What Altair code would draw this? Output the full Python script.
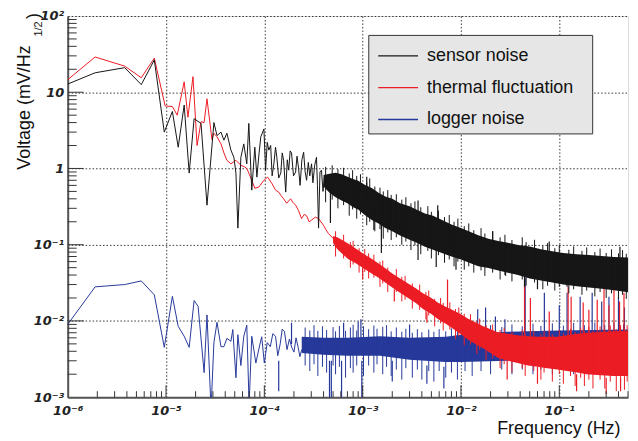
import altair as alt
import pandas as pd

# ---------------- data ----------------
SERIES = ["sensor noise", "thermal fluctuation", "logger noise"]
COLORS = ["#161616", "#ec1c24", "#26399a"]

# sparse (low-frequency) part of each spectrum: (frequency Hz, voltage mV/Hz^1/2)
SENSOR_LINE = [
    (1.0e-6, 12.8), (1.9e-6, 18), (3.8e-6, 21), (5.6e-6, 12.6), (7.6e-6, 26.5),
    (9.6e-6, 3.0), (1.16e-5, 5.6), (1.33e-5, 1.9), (1.53e-5, 6.8), (1.72e-5, 0.87),
    (1.93e-5, 4.5), (2.27e-5, 3.9), (2.61e-5, 0.33), (3.07e-5, 4.0), (3.30e-5, 2.7),
    (3.62e-5, 3.0), (3.88e-5, 2.35), (4.16e-5, 2.9), (4.57e-5, 1.74), (4.90e-5, 1.4),
    (5.14e-5, 0.87), (5.38e-5, 0.165), (5.77e-5, 1.4), (6.18e-5, 2.1), (6.63e-5, 1.15),
    (6.95e-5, 3.9), (7.45e-5, 0.52), (8.0e-5, 1.9), (8.4e-5, 0.77), (8.8e-5, 1.5),
    (9.2e-5, 2.6), (9.9e-5, 3.3), (1.03e-4, 0.95), (1.07e-4, 2.2), (1.11e-4, 1.74),
    (1.16e-4, 2.0), (1.2e-4, 0.8), (1.25e-4, 1.15), (1.3e-4, 1.9), (1.34e-4, 1.4),
    (1.4e-4, 0.75), (1.47e-4, 0.87), (1.52e-4, 1.6), (1.57e-4, 1.28), (1.65e-4, 0.49),
    (1.71e-4, 1.3), (1.77e-4, 0.95), (1.83e-4, 1.7), (1.89e-4, 1.6), (1.98e-4, 0.8),
    (2.08e-4, 0.9), (2.15e-4, 1.45), (2.23e-4, 1.0), (2.31e-4, 0.6), (2.41e-4, 1.3),
    (2.51e-4, 1.63), (2.6e-4, 0.9), (2.69e-4, 0.7), (2.8e-4, 1.2), (2.9e-4, 0.8),
    (3.02e-4, 1.15), (3.12e-4, 0.65), (3.25e-4, 1.1), (3.39e-4, 1.4), (3.47e-4, 0.6),
    (3.56e-4, 0.165), (3.68e-4, 0.9), (3.81e-4, 0.95), (3.95e-4, 0.5), (4.1e-4, 0.8),
]
THERMAL_LINE = [
    (1.0e-6, 14.6), (1.9e-6, 29), (3.8e-6, 22), (5.6e-6, 15.5), (7.6e-6, 28),
    (9.8e-6, 6.6), (1.16e-5, 6.5), (1.30e-5, 5.0), (1.53e-5, 13.7), (1.67e-5, 4.7),
    (1.88e-5, 16), (2.07e-5, 2.0), (2.27e-5, 4.1), (2.44e-5, 4.0), (2.61e-5, 8.2),
    (2.93e-5, 2.4), (3.07e-5, 2.9), (3.30e-5, 2.6), (3.62e-5, 2.1), (3.88e-5, 1.6),
    (4.16e-5, 1.28), (4.57e-5, 1.15), (5.14e-5, 1.28), (5.77e-5, 1.1), (6.3e-5, 1.05),
    (6.63e-5, 1.0), (6.95e-5, 0.87), (7.45e-5, 0.7), (8.0e-5, 0.55), (8.8e-5, 0.57),
    (9.9e-5, 0.7), (1.08e-4, 0.77), (1.19e-4, 0.64), (1.30e-4, 0.52), (1.40e-4, 0.49),
    (1.48e-4, 0.44), (1.57e-4, 0.40), (1.69e-4, 0.35), (1.85e-4, 0.40), (1.95e-4, 0.36),
    (2.08e-4, 0.33), (2.23e-4, 0.28), (2.39e-4, 0.22), (2.55e-4, 0.25), (2.69e-4, 0.24),
    (2.85e-4, 0.20), (3.02e-4, 0.21), (3.3e-4, 0.23), (3.56e-4, 0.22), (3.99e-4, 0.18),
    (4.2e-4, 0.16), (4.49e-4, 0.14), (4.75e-4, 0.13), (5.04e-4, 0.12),
]
LOGGER_LINE = [
    (1.0e-6, 0.009), (1.9e-6, 0.028), (3.8e-6, 0.030), (5.6e-6, 0.0335), (7.6e-6, 0.022),
    (9.6e-6, 0.0045), (1.16e-5, 0.021), (1.33e-5, 0.0085), (1.53e-5, 0.0063), (1.72e-5, 0.0045),
    (1.93e-5, 0.0185), (2.12e-5, 0.0155), (2.44e-5, 0.0021), (2.61e-5, 0.012), (2.87e-5, 0.0007),
    (3.07e-5, 0.0052), (3.30e-5, 0.0096), (3.62e-5, 0.0046), (3.88e-5, 0.0046), (4.16e-5, 0.0059),
    (4.57e-5, 0.0054), (4.78e-5, 0.0077), (5.14e-5, 0.0018), (5.38e-5, 0.0066), (5.77e-5, 0.0026),
    (6.18e-5, 0.0063), (6.63e-5, 0.0088), (7.0e-5, 0.0008), (7.45e-5, 0.0063), (8.2e-5, 0.0028),
    (8.8e-5, 0.0043), (9.4e-5, 0.0062), (1.0e-4, 0.0028), (1.07e-4, 0.0052), (1.15e-4, 0.0046),
    (1.22e-4, 0.0068), (1.3e-4, 0.0063), (1.37e-4, 0.0035), (1.45e-4, 0.0050), (1.52e-4, 0.0078),
    (1.6e-4, 0.0073), (1.7e-4, 0.0042), (1.8e-4, 0.0058), (1.9e-4, 0.0045), (2.0e-4, 0.0039),
    (2.1e-4, 0.0060), (2.2e-4, 0.0046), (2.3e-4, 0.0034), (2.4e-4, 0.0042),
]

# dense (high-frequency) part: solid core of the noise band (frequency, low, high)
SENSOR_CORE = [
    (4.0e-4, 0.58, 0.82), (4.6e-4, 0.48, 0.85), (5.3e-4, 0.42, 0.88), (6.1e-4, 0.38, 0.84),
    (7.0e-4, 0.35, 0.78), (8.0e-4, 0.31, 0.73), (9.0e-4, 0.29, 0.69), (1.05e-3, 0.245, 0.61),
    (1.25e-3, 0.21, 0.55), (1.45e-3, 0.19, 0.48), (1.7e-3, 0.165, 0.43), (2.0e-3, 0.15, 0.40),
    (2.4e-3, 0.132, 0.35), (3.0e-3, 0.116, 0.32), (3.6e-3, 0.105, 0.285), (4.3e-3, 0.094, 0.257),
    (5.2e-3, 0.086, 0.24), (6.5e-3, 0.077, 0.21), (8.0e-3, 0.070, 0.184), (1.0e-2, 0.064, 0.166),
    (1.25e-2, 0.057, 0.147), (1.5e-2, 0.052, 0.133), (1.9e-2, 0.0495, 0.12), (2.4e-2, 0.046, 0.112),
    (3.0e-2, 0.043, 0.106), (3.8e-2, 0.040, 0.099), (5.0e-2, 0.036, 0.095), (6.5e-2, 0.034, 0.087),
    (8.5e-2, 0.032, 0.082), (0.11, 0.030, 0.078), (0.15, 0.0286, 0.075), (0.2, 0.0275, 0.073),
    (0.27, 0.0264, 0.071), (0.36, 0.0253, 0.069), (0.5, 0.0237, 0.068),
]
THERMAL_CORE = [
    (5.0e-4, 0.105, 0.13), (5.5e-4, 0.088, 0.125), (6.0e-4, 0.079, 0.118), (7.1e-4, 0.065, 0.104),
    (8.5e-4, 0.057, 0.089), (1.0e-3, 0.050, 0.077), (1.2e-3, 0.043, 0.067), (1.44e-3, 0.037, 0.057),
    (1.7e-3, 0.032, 0.049), (2.0e-3, 0.0275, 0.042), (2.4e-3, 0.0235, 0.036), (2.9e-3, 0.020, 0.031),
    (3.5e-3, 0.017, 0.0267), (4.1e-3, 0.0143, 0.023), (5.0e-3, 0.0123, 0.020), (5.8e-3, 0.0106, 0.0175),
    (7.0e-3, 0.0092, 0.0154), (8.3e-3, 0.0079, 0.0138), (1.0e-2, 0.0067, 0.0122), (1.17e-2, 0.0057, 0.0108),
    (1.4e-2, 0.0050, 0.0096), (1.66e-2, 0.0044, 0.0086), (2.0e-2, 0.0038, 0.0078), (2.36e-2, 0.0033, 0.0071),
    (3.0e-2, 0.0030, 0.0068), (3.76e-2, 0.0028, 0.0065), (4.8e-2, 0.0026, 0.0063), (6.0e-2, 0.0025, 0.0062),
    (7.5e-2, 0.0024, 0.0062), (9.55e-2, 0.0023, 0.0062), (0.12, 0.0022, 0.0065), (0.152, 0.0021, 0.0068),
    (0.19, 0.0020, 0.0070), (0.243, 0.00195, 0.0071), (0.35, 0.0019, 0.0073), (0.5, 0.0019, 0.0074),
]
LOGGER_CORE = [
    (2.4e-4, 0.0038, 0.0062), (4e-4, 0.0036, 0.0060), (7e-4, 0.0035, 0.0060), (1.5e-3, 0.0035, 0.0063),
    (3e-3, 0.0031, 0.0060), (7e-3, 0.0029, 0.0062), (1e-2, 0.0029, 0.0066), (3e-2, 0.0030, 0.0072),
    (0.1, 0.0030, 0.0075), (0.5, 0.0030, 0.0077),
]

# hair-like extremes of the noise around each band: (frequency, low, high)
SENSOR_HAIR = [
    (4.2e-4, 0.36, 1.05), (4.9e-4, 0.39, 1.1), (5.6e-4, 0.30, 0.98), (6.4e-4, 0.33, 1.02),
    (7.3e-4, 0.24, 0.86), (7.9e-4, 0.29, 0.95), (8.7e-4, 0.22, 0.80), (9.5e-4, 0.25, 0.84),
    (1.1e-3, 0.18, 0.66), (1.18e-3, 0.20, 0.74), (1.33e-3, 0.15, 0.58), (1.5e-3, 0.16, 0.56),
    (1.62e-3, 0.12, 0.50), (1.8e-3, 0.145, 0.52), (1.95e-3, 0.115, 0.45), (2.2e-3, 0.125, 0.46),
    (2.5e-3, 0.10, 0.39), (2.75e-3, 0.11, 0.42), (3.1e-3, 0.085, 0.35), (3.4e-3, 0.098, 0.37),
    (3.9e-3, 0.075, 0.31), (4.6e-3, 0.083, 0.32), (5.0e-3, 0.066, 0.27), (5.9e-3, 0.073, 0.28),
    (6.8e-3, 0.058, 0.23), (7.6e-3, 0.064, 0.245), (8.5e-3, 0.052, 0.20), (9.3e-3, 0.060, 0.22),
    (1.08e-2, 0.047, 0.175), (1.2e-2, 0.052, 0.19), (1.35e-2, 0.043, 0.155), (1.6e-2, 0.046, 0.165),
    (1.75e-2, 0.039, 0.14), (2.1e-2, 0.043, 0.15), (2.5e-2, 0.035, 0.125), (2.8e-2, 0.040, 0.135),
    (3.3e-2, 0.033, 0.115), (4.2e-2, 0.035, 0.125), (4.6e-2, 0.029, 0.108), (5.6e-2, 0.032, 0.116),
    (6.8e-2, 0.026, 0.097), (7.6e-2, 0.029, 0.105), (9.0e-2, 0.025, 0.090), (0.1, 0.028, 0.10),
    (0.125, 0.023, 0.086), (0.14, 0.026, 0.095), (0.17, 0.022, 0.083), (0.19, 0.025, 0.092),
    (0.23, 0.021, 0.080), (0.26, 0.024, 0.089), (0.3, 0.020, 0.078), (0.34, 0.023, 0.087),
    (0.4, 0.0195, 0.077), (0.44, 0.022, 0.085), (0.48, 0.0195, 0.076),
]
THERMAL_HAIR = [
    (5.3e-4, 0.070, 0.15), (6.4e-4, 0.066, 0.135), (7.5e-4, 0.050, 0.108), (8.0e-4, 0.055, 0.112),
    (9.2e-4, 0.043, 0.090), (1.05e-3, 0.044, 0.088), (1.15e-3, 0.036, 0.077), (1.3e-3, 0.037, 0.074),
    (1.5e-3, 0.028, 0.060), (1.6e-3, 0.031, 0.062), (1.8e-3, 0.024, 0.050), (2.2e-3, 0.024, 0.048),
    (2.5e-3, 0.018, 0.038), (2.7e-3, 0.019, 0.039), (3.2e-3, 0.0145, 0.031), (3.8e-3, 0.014, 0.030),
    (4.4e-3, 0.0105, 0.024), (4.7e-3, 0.0118, 0.025), (5.4e-3, 0.0085, 0.0195), (6.2e-3, 0.0093, 0.020),
    (6.6e-3, 0.0075, 0.0172), (7.7e-3, 0.0077, 0.0175), (8.8e-3, 0.0058, 0.0143), (9.5e-3, 0.0063, 0.015),
    (1.08e-2, 0.0048, 0.0124), (1.25e-2, 0.0049, 0.0122), (1.45e-2, 0.0037, 0.010), (1.55e-2, 0.0042, 0.0107),
    (1.8e-2, 0.0031, 0.0088), (2.1e-2, 0.0032, 0.0090), (2.5e-2, 0.0024, 0.0076), (2.75e-2, 0.0027, 0.0082),
    (3.3e-2, 0.0021, 0.0072), (4.2e-2, 0.0024, 0.0076), (4.5e-2, 0.0019, 0.0068), (5.5e-2, 0.0022, 0.0074),
    (6.5e-2, 0.0017, 0.0067), (7.0e-2, 0.0021, 0.0074), (8.5e-2, 0.0016, 0.0067), (0.1, 0.0020, 0.0076),
    (0.11, 0.0015, 0.0069), (0.13, 0.0019, 0.0079), (0.145, 0.0014, 0.0072), (0.165, 0.0018, 0.0082),
    (0.18, 0.0014, 0.0074), (0.2, 0.0017, 0.0084), (0.22, 0.0013, 0.0075), (0.26, 0.0017, 0.0085),
    (0.29, 0.0013, 0.0077), (0.33, 0.0016, 0.0087), (0.38, 0.0012, 0.0078), (0.42, 0.0016, 0.0088),
    (0.46, 0.00125, 0.0079), (0.49, 0.0016, 0.0088),
]
LOGGER_HAIR = [
    (2.6e-4, 0.0026, 0.0082), (2.9e-4, 0.0022, 0.0075), (3.2e-4, 0.0027, 0.0088), (3.5e-4, 0.0019, 0.0074),
    (3.9e-4, 0.0025, 0.0085), (4.3e-4, 0.0021, 0.0076), (5.0e-4, 0.0026, 0.0083), (5.3e-4, 0.0020, 0.0073),
    (5.8e-4, 0.0025, 0.0086), (6.7e-4, 0.0018, 0.0074), (7.5e-4, 0.0024, 0.0082), (8.0e-4, 0.0021, 0.0089),
    (8.7e-4, 0.0026, 0.0075), (1.02e-3, 0.0019, 0.0085), (1.15e-3, 0.0026, 0.0078), (1.3e-3, 0.0021, 0.0087),
    (1.4e-3, 0.0027, 0.0079), (1.6e-3, 0.0020, 0.0084), (1.75e-3, 0.0025, 0.0088), (1.95e-3, 0.0019, 0.0073),
    (2.2e-3, 0.0023, 0.0082), (2.5e-3, 0.0017, 0.0072), (2.75e-3, 0.0024, 0.0079), (3.2e-3, 0.0018, 0.0070),
    (3.6e-3, 0.0023, 0.0078), (4.0e-3, 0.0017, 0.0071), (4.7e-3, 0.0022, 0.0077), (5.3e-3, 0.0016, 0.0072),
    (6.0e-3, 0.0022, 0.0078), (7.0e-3, 0.0018, 0.0073), (8.0e-3, 0.0021, 0.0080), (9.2e-3, 0.0017, 0.0074),
    (1.1e-2, 0.0022, 0.0082), (1.3e-2, 0.0019, 0.0086), (1.6e-2, 0.0022, 0.0080), (2.0e-2, 0.0020, 0.0088),
    (2.6e-2, 0.0023, 0.0083), (3.3e-2, 0.0020, 0.0090), (4.2e-2, 0.0023, 0.0085), (5.4e-2, 0.0020, 0.0092),
    (6.5e-2, 0.0023, 0.0086), (8.5e-2, 0.0020, 0.0093), (0.11, 0.0023, 0.0087), (0.14, 0.0020, 0.0094),
    (0.18, 0.0023, 0.0088), (0.23, 0.0020, 0.0095), (0.29, 0.0023, 0.0089), (0.36, 0.0020, 0.0096),
    (0.45, 0.0023, 0.0090),
]

# isolated long spikes: (frequency, low, high)
SENSOR_SPIKES = [
    (4.7e-4, 0.193, 0.5), (1.3e-3, 0.156, 0.3), (1.55e-3, 0.078, 0.2), (3.66e-3, 0.063, 0.12),
    (5.6e-3, 0.051, 0.1), (8.9e-3, 0.047, 0.08), (2.84e-2, 0.039, 0.06), (4.43e-2, 0.028, 0.045),
    (6.0e-2, 0.026, 0.04), (0.12, 0.028, 0.04), (3.66e-3, 0.2, 0.38), (5.8e-3, 0.2, 0.33),
    (2.1e-2, 0.1, 0.15), (0.079, 0.07, 0.11), (0.414, 0.06, 0.094), (1.1e-3, 0.4, 0.78),
]
THERMAL_SPIKES = [
    (7.3e-3, 0.012, 0.035), (0.0443, 0.006, 0.030), (0.0508, 0.006, 0.020), (0.079, 0.006, 0.0133),
    (0.123, 0.006, 0.028), (0.132, 0.006, 0.0207), (0.175, 0.007, 0.0175), (0.243, 0.007, 0.019),
    (0.285, 0.007, 0.027), (0.36, 0.007, 0.026), (0.455, 0.007, 0.0235), (0.2, 0.007, 0.014),
    (0.32, 0.007, 0.016), (0.41, 0.007, 0.018), (0.0295, 0.0017, 0.003), (0.06, 0.0015, 0.0025),
    (0.15, 0.0012, 0.002), (0.3, 0.0011, 0.0018), (0.42, 0.0012, 0.0018), (1.0e-3, 0.035, 0.05),
    (2.1e-3, 0.018, 0.026), (4.5e-3, 0.0095, 0.013),
]
LOGGER_SPIKES = [
    (1.89e-4, 0.005, 0.0095), (6.4e-4, 0.006, 0.0095), (9.0e-4, 0.006, 0.0098), (9.6e-4, 0.006, 0.0105),
    (3.0e-3, 0.006, 0.009), (0.0148, 0.007, 0.0142), (0.0178, 0.007, 0.015), (0.0224, 0.007, 0.0114),
    (0.045, 0.007, 0.0365), (0.0705, 0.007, 0.0235), (0.12, 0.007, 0.0235), (0.163, 0.007, 0.0207),
    (0.216, 0.007, 0.0235), (0.32, 0.007, 0.0207), (0.40, 0.007, 0.0207), (0.028, 0.007, 0.0105),
    (0.1, 0.007, 0.016), (0.27, 0.007, 0.018), (0.46, 0.007, 0.015), (4.6e-4, 0.001, 0.003),
    (4.8e-4, 0.0008, 0.003), (6.1e-4, 0.0009, 0.003), (9.8e-4, 0.0009, 0.003), (2.0e-3, 0.0016, 0.003),
    (4.5e-3, 0.0015, 0.0026), (6.7e-3, 0.0013, 0.0025), (1.4e-4, 0.0012, 0.003),
]

X_MAJOR = [1e-6, 1e-5, 1e-4, 1e-3, 1e-2, 1e-1]
Y_MAJOR = [1e-3, 1e-2, 1e-1, 1, 10, 100]
X_MINOR = [k * 10.0 ** d for d in range(-6, 0) for k in range(2, 10) if k * 10.0 ** d <= 0.5]
Y_MINOR = [k * 10.0 ** d for d in range(-3, 2) for k in range(2, 10)]

# ---------------- chart ----------------
FONT = "Liberation Sans"
TICKFONT = "DejaVu Sans"
W, H = 563, 383
XS = alt.Scale(type="log", domain=[1e-6, 0.5], nice=False)
YS = alt.Scale(type="log", domain=[1e-3, 100], nice=False)
CS = alt.Scale(domain=SERIES, range=COLORS)

x_label = ("datum.value < 3e-6 ? '10⁻⁶' : datum.value < 3e-5 ? '10⁻⁵' : datum.value < 3e-4 ? '10⁻⁴'"
           " : datum.value < 3e-3 ? '10⁻³' : datum.value < 3e-2 ? '10⁻²' : '10⁻¹'")
y_label = ("datum.value < 3e-3 ? '10⁻³' : datum.value < 3e-2 ? '10⁻²' : datum.value < 0.3 ? '10⁻¹'"
           " : datum.value < 3 ? '1' : datum.value < 30 ? '10' : '10²'")

common_axis = dict(grid=True, gridDash=[1.5, 2], gridColor="#222", gridWidth=0.9,
                   ticks=False, tickSize=0, domain=True, domainColor="#555", domainWidth=2,
                   labelFont=TICKFONT, labelFontSize=13, labelFontWeight="bold", labelFontStyle="italic",
                   labelColor="#222", labelFlush=False, labelOverlap=False,
                   titleFont=FONT, titleFontSize=18, titleFontWeight="normal", titleColor="#111")

X_AXIS = alt.Axis(values=X_MAJOR, labelExpr=x_label, title="Frequency (Hz)", labelPadding=7,
                  titleX=555, titleY=37, titleAlign="right", titleBaseline="alphabetic",
                  titleAnchor="end", **common_axis)
Y_AXIS = alt.Axis(values=Y_MAJOR, labelExpr=y_label, title="Voltage (mV/Hz", labelPadding=4,
                  titleAngle=270, titleAlign="right", titleBaseline="middle",
                  titleX=-43, titleY=29, titleAnchor="end", **common_axis)

LEGEND = alt.Legend(title=None, orient="none", legendX=302, legendY=19, fillColor="#e6e6e6",
                    strokeColor="#333", padding=5, symbolType="M-1.333,0L1.333,0", symbolSize=900,
                    symbolOffset=9, symbolStrokeWidth=1.3, labelFont=FONT, labelFontSize=18,
                    labelColor="#111", labelOffset=13, rowPadding=7, offset=0, labelLimit=400,
                    labelExpr="datum.label + '\u2800'")


def xenc(field="f"):
    return alt.X(f"{field}:Q", scale=XS, axis=X_AXIS)


def yenc(field):
    return alt.Y(f"{field}:Q", scale=YS, axis=Y_AXIS)


def line_layer(pairs, name):
    df = pd.DataFrame(pairs, columns=["f", "v"])
    df["series"] = name
    return alt.Chart(df).mark_line(strokeWidth=1, clip=True).encode(
        x=xenc(), y=yenc("v"),
        color=alt.Color("series:N", scale=CS, legend=LEGEND),
    )


def band_layer(rows, color):
    df = pd.DataFrame(rows, columns=["f", "v", "hi"])
    return alt.Chart(df).mark_area(color=color, opacity=1, clip=True).encode(
        x=xenc(), y=yenc("v"), y2="hi:Q",
    )


def rule_layer(rows, color, width):
    df = pd.DataFrame(rows, columns=["f", "v", "hi"])
    return alt.Chart(df).mark_rule(color=color, strokeWidth=width, clip=True).encode(
        x=xenc(), y=yenc("v"), y2="hi:Q",
    )


def xtick_layer(vals, length):
    df = pd.DataFrame({"f": vals})
    return alt.Chart(df).mark_rule(color="#333", strokeWidth=1).encode(
        x=xenc(), y=alt.value(H), y2=alt.value(H - length))


def ytick_layer(vals, length):
    df = pd.DataFrame({"v": vals})
    return alt.Chart(df).mark_rule(color="#333", strokeWidth=1).encode(
        y=yenc("v"), x=alt.value(0), x2=alt.value(length))


one = pd.DataFrame({"a": [0]})
sup = alt.Chart(one).mark_text(text="1/2", angle=270, font=FONT, fontSize=11, color="#111").encode(
    x=alt.value(-29), y=alt.value(13))
paren = alt.Chart(one).mark_text(text=")", angle=270, font=FONT, fontSize=18, color="#111").encode(
    x=alt.value(-34), y=alt.value(0))

chart = alt.layer(
    line_layer(LOGGER_LINE, "logger noise"),
    band_layer(LOGGER_CORE, COLORS[2]),
    rule_layer(LOGGER_HAIR, COLORS[2], 1),
    rule_layer(LOGGER_SPIKES, COLORS[2], 1.2),
    line_layer(THERMAL_LINE, "thermal fluctuation"),
    band_layer(THERMAL_CORE, COLORS[1]),
    rule_layer(THERMAL_HAIR, COLORS[1], 1),
    rule_layer(THERMAL_SPIKES, COLORS[1], 1.2),
    line_layer(SENSOR_LINE, "sensor noise"),
    band_layer(SENSOR_CORE, COLORS[0]),
    rule_layer(SENSOR_HAIR, COLORS[0], 1),
    rule_layer(SENSOR_SPIKES, COLORS[0], 1.2),
    xtick_layer(X_MINOR, 6),
    xtick_layer(X_MAJOR[1:], 12),
    ytick_layer(Y_MINOR, 9),
    ytick_layer(Y_MAJOR[1:-1], 16),
    sup,
    paren,
).properties(
    width=W, height=H,
    padding={"left": 60, "top": 7, "right": 2, "bottom": 42},
    autosize=alt.AutoSizeParams(type="none"),
).configure_view(stroke="#333", strokeWidth=1.2).configure(background="white")

chart.save("out.html", embed_options={"renderer": "svg", "actions": False})
